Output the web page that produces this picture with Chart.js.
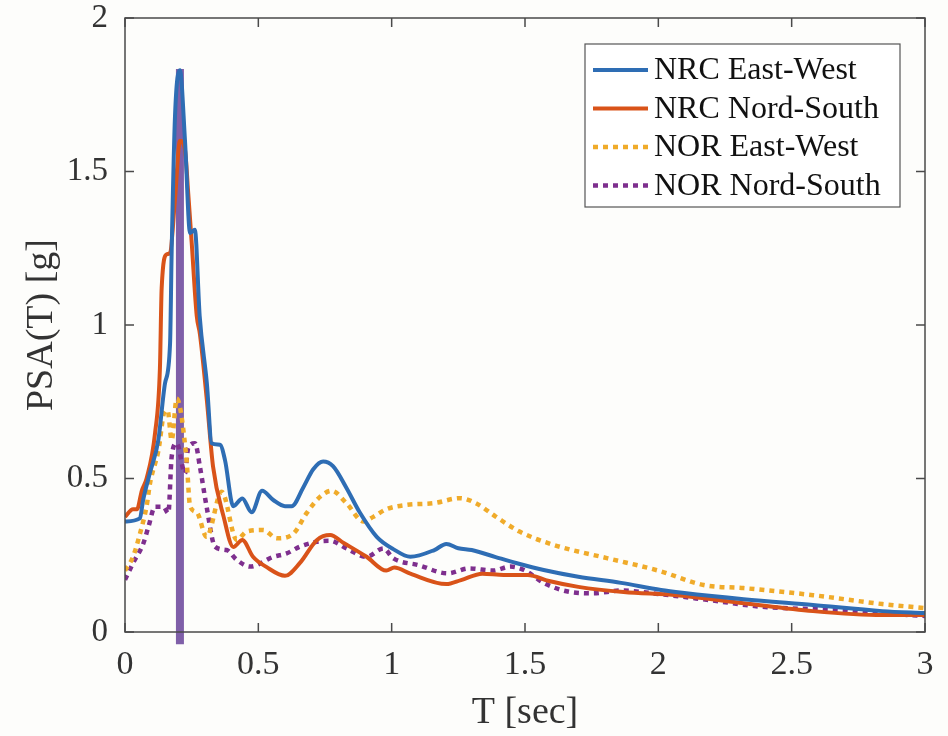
<!DOCTYPE html>
<html>
<head>
<meta charset="utf-8">
<script src="https://cdn.jsdelivr.net/npm/chart.js@4"></script>
<style>
  body { margin: 0; background: #fdfdfb; }
  #wrap { width: 948px; height: 736px; }
</style>
</head>
<body>
<div id="wrap"><canvas id="psa"></canvas></div>
<script>
// periods (sec) and spectral accelerations (g)
const nrcEwT = [0, 0.056, 0.068, 0.094, 0.125, 0.15, 0.169, 0.175, 0.1875, 0.206, 0.225, 0.244, 0.262, 0.28, 0.307, 0.325, 0.356, 0.375, 0.406, 0.44, 0.475, 0.514, 0.556, 0.6, 0.625, 0.668, 0.706, 0.743, 0.78, 0.83, 0.88, 0.944, 1.006, 1.07, 1.16, 1.205, 1.25, 1.3, 1.39, 1.47, 1.57, 1.7, 1.86, 2.01, 2.09, 2.32, 2.58, 2.84, 3.0];
const nrcEw = [0.36, 0.37, 0.43, 0.52, 0.625, 0.81, 0.94, 1.24, 1.68, 1.83, 1.6, 1.3, 1.31, 1.03, 0.81, 0.615, 0.61, 0.56, 0.41, 0.435, 0.39, 0.46, 0.43, 0.41, 0.41, 0.47, 0.53, 0.555, 0.54, 0.47, 0.39, 0.31, 0.27, 0.245, 0.267, 0.287, 0.273, 0.267, 0.244, 0.224, 0.202, 0.18, 0.16, 0.137, 0.128, 0.107, 0.088, 0.068, 0.062];

const nrcNsT = [0, 0.03, 0.045, 0.063, 0.081, 0.113, 0.131, 0.1375, 0.156, 0.169, 0.1875, 0.206, 0.225, 0.237, 0.25, 0.269, 0.281, 0.307, 0.33, 0.37, 0.406, 0.44, 0.48, 0.53, 0.6, 0.656, 0.72, 0.769, 0.82, 0.906, 0.98, 1.01, 1.07, 1.205, 1.26, 1.34, 1.42, 1.51, 1.59, 1.7, 1.87, 2.07, 2.32, 2.58, 2.84, 3.0];
const nrcNs = [0.375, 0.4, 0.4, 0.46, 0.5, 0.65, 0.86, 1.12, 1.23, 1.235, 1.41, 1.6, 1.57, 1.43, 1.27, 1.03, 0.97, 0.755, 0.54, 0.375, 0.277, 0.3, 0.245, 0.212, 0.183, 0.225, 0.3, 0.316, 0.29, 0.245, 0.2, 0.21, 0.19, 0.156, 0.169, 0.19, 0.186, 0.186, 0.166, 0.147, 0.13, 0.12, 0.094, 0.068, 0.055, 0.055];

const norEwT = [0, 0.03, 0.056, 0.081, 0.094, 0.125, 0.15, 0.16, 0.175, 0.194, 0.23, 0.244, 0.269, 0.306, 0.3625, 0.419, 0.456, 0.519, 0.569, 0.631, 0.681, 0.731, 0.775, 0.831, 0.894, 0.931, 0.98, 1.056, 1.16, 1.256, 1.315, 1.39, 1.48, 1.61, 1.81, 2.0, 2.17, 2.32, 2.58, 2.84, 3.0];
const norEw = [0.2, 0.245, 0.32, 0.41, 0.485, 0.59, 0.72, 0.72, 0.625, 0.76, 0.57, 0.41, 0.39, 0.31, 0.457, 0.3, 0.327, 0.332, 0.305, 0.32, 0.387, 0.44, 0.46, 0.419, 0.36, 0.375, 0.4, 0.414, 0.42, 0.436, 0.42, 0.376, 0.327, 0.283, 0.24, 0.2, 0.153, 0.143, 0.12, 0.091, 0.078];

const norNsT = [0, 0.03, 0.069, 0.088, 0.1125, 0.144, 0.1625, 0.175, 0.194, 0.225, 0.237, 0.2625, 0.281, 0.306, 0.3375, 0.381, 0.419, 0.469, 0.556, 0.606, 0.656, 0.719, 0.769, 0.831, 0.906, 0.969, 1.006, 1.1, 1.21, 1.29, 1.38, 1.445, 1.496, 1.574, 1.665, 1.755, 1.86, 2.0, 2.19, 2.39, 2.65, 2.84, 3.0];
const norNs = [0.17, 0.224, 0.289, 0.343, 0.408, 0.408, 0.387, 0.571, 0.615, 0.517, 0.6, 0.615, 0.538, 0.408, 0.278, 0.267, 0.235, 0.213, 0.245, 0.256, 0.278, 0.294, 0.297, 0.272, 0.245, 0.272, 0.24, 0.218, 0.191, 0.207, 0.2, 0.213, 0.202, 0.158, 0.131, 0.126, 0.135, 0.124, 0.104, 0.082, 0.072, 0.061, 0.052];

// dominant period marker
const peakT = [0.206, 0.206];
const peakPsa = [-0.04, 1.834];

const xTicks = [0, 0.5, 1, 1.5, 2, 2.5, 3];
const yTicks = [0, 0.5, 1, 1.5, 2];

const serif = '"Liberation Serif", "DejaVu Serif", serif';

function pts(xs, ys) {
  return xs.map((x, i) => ({ x: x, y: ys[i] }));
}

// box round the axes with inward ticks, matlab style
const boxPlugin = {
  id: 'box',
  afterDatasetsDraw(chart) {
    const { ctx, chartArea: a, scales } = chart;
    ctx.save();
    ctx.strokeStyle = '#4a4a4a';
    ctx.lineWidth = 1.5;
    ctx.strokeRect(a.left, a.top, a.right - a.left, a.bottom - a.top);
    ctx.beginPath();
    xTicks.forEach(v => {
      const px = scales.x.getPixelForValue(v);
      ctx.moveTo(px, a.bottom); ctx.lineTo(px, a.bottom - 9);
      ctx.moveTo(px, a.top); ctx.lineTo(px, a.top + 9);
    });
    yTicks.forEach(v => {
      const py = scales.y.getPixelForValue(v);
      ctx.moveTo(a.left, py); ctx.lineTo(a.left + 9, py);
      ctx.moveTo(a.right, py); ctx.lineTo(a.right - 9, py);
    });
    ctx.stroke();

    // legend inside the axes
    const lx = a.left + 460, ly = a.top + 26, lw = 315, lh = 163;
    ctx.fillStyle = '#ffffff';
    ctx.fillRect(lx, ly, lw, lh);
    ctx.strokeStyle = '#555';
    ctx.lineWidth = 1.2;
    ctx.strokeRect(lx, ly, lw, lh);
    ctx.font = '32px ' + serif;
    ctx.textBaseline = 'middle';
    chart.data.datasets.forEach((ds, i) => {
      if (!ds.label) return;
      const y = ly + 26 + i * 38.5;
      ctx.strokeStyle = ds.borderColor;
      ctx.lineWidth = ds.borderWidth;
      ctx.setLineDash(ds.borderDash || []);
      ctx.beginPath();
      ctx.moveTo(lx + 8, y); ctx.lineTo(lx + 63, y);
      ctx.stroke();
      ctx.setLineDash([]);
      ctx.fillStyle = '#111';
      ctx.fillText(ds.label, lx + 69, y + 1);
    });
    ctx.restore();
  }
};

new Chart(document.getElementById('psa'), {
  type: 'line',
  data: {
    datasets: [
      { label: 'NRC East-West', data: pts(nrcEwT, nrcEw), borderColor: '#2e6db4', borderWidth: 4 },
      { label: 'NRC Nord-South', data: pts(nrcNsT, nrcNs), borderColor: '#d95319', borderWidth: 4 },
      { label: 'NOR East-West', data: pts(norEwT, norEw), borderColor: '#f0ab2a', borderWidth: 4.5, borderDash: [5, 5] },
      { label: 'NOR Nord-South', data: pts(norNsT, norNs), borderColor: '#7e2f8e', borderWidth: 4.5, borderDash: [5, 5] },
      { label: '', data: pts(peakT, peakPsa), borderColor: '#7f5fa8', borderWidth: 8, clip: false, borderCapStyle: 'butt' }
    ]
  },
  options: {
    responsive: true,
    maintainAspectRatio: false,
    animation: false,
    layout: { padding: { top: 0, right: 23 } },
    elements: {
      point: { radius: 0 },
      line: { cubicInterpolationMode: 'monotone', borderCapStyle: 'butt', borderJoinStyle: 'round' }
    },
    plugins: {
      legend: { display: false },
      tooltip: { enabled: false }
    },
    scales: {
      x: {
        type: 'linear',
        min: 0,
        max: 3,
        grid: { display: false },
        border: { display: false },
        afterBuildTicks: s => { s.ticks = xTicks.map(v => ({ value: v })); },
        afterFit: s => { s.height = 104; },
        ticks: {
          color: '#333',
          padding: 8,
          font: { family: serif, size: 34, lineHeight: 1 },
          maxRotation: 0,
          callback: v => String(v)
        },
        title: {
          display: true,
          text: 'T [sec]',
          color: '#333',
          padding: 0,
          font: { family: serif, size: 38 }
        }
      },
      y: {
        min: 0,
        max: 2,
        grid: { display: false },
        border: { display: false },
        afterBuildTicks: s => { s.ticks = yTicks.map(v => ({ value: v })); },
        afterFit: s => { s.width = 125; s.paddingTop = 18; s.paddingBottom = 0; },
        ticks: {
          color: '#333',
          padding: 9,
          font: { family: serif, size: 33, lineHeight: 1 },
          callback: v => String(v)
        },
        title: {
          display: true,
          text: 'PSA(T) [g]',
          color: '#333',
          padding: { top: 19 },
          font: { family: serif, size: 38 }
        }
      }
    }
  },
  plugins: [boxPlugin]
});
</script>
</body>
</html>
